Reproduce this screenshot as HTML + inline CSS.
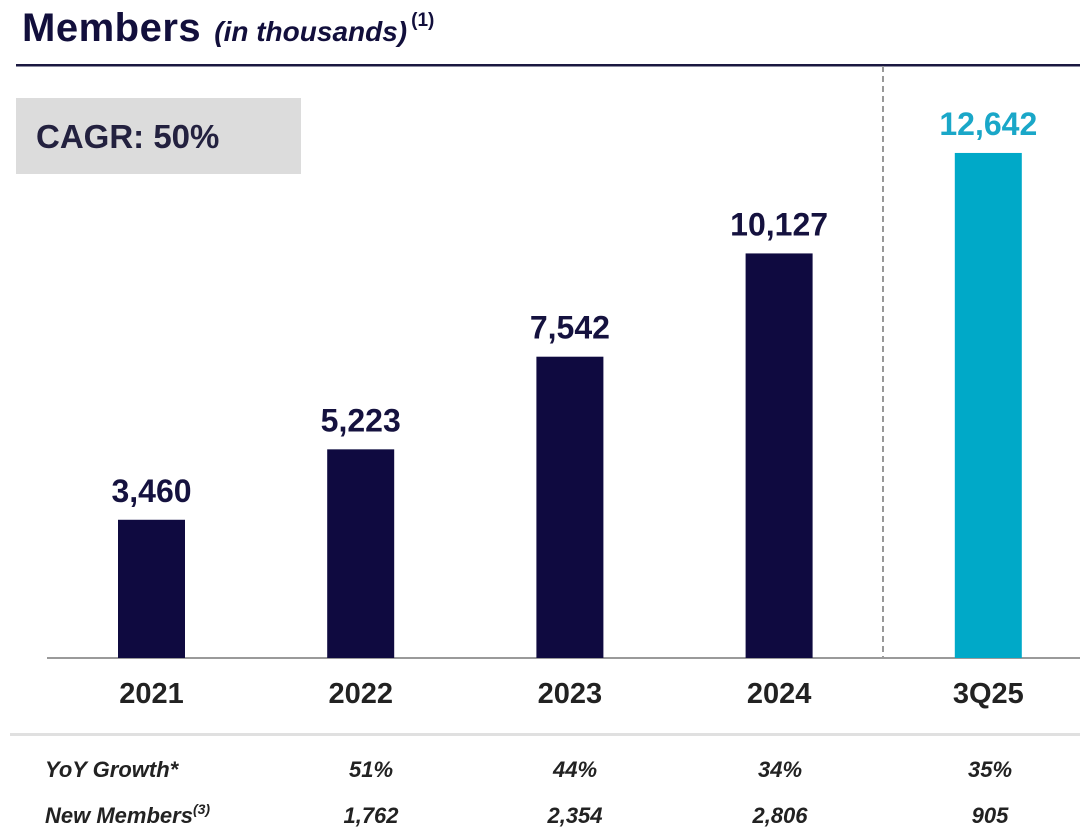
<!DOCTYPE html>
<html><head><meta charset="utf-8">
<style>
body{margin:0;width:1080px;height:827px;background:#fff;overflow:hidden;font-family:"Liberation Sans",sans-serif;}
svg text{font-family:"Liberation Sans",sans-serif;}
</style></head>
<body>
<svg width="1080" height="827" id="chart">
<text x="22" y="41" font-size="40" font-weight="bold" fill="#120f3c"><tspan letter-spacing="0.5">Members</tspan> <tspan font-size="28" font-style="italic" dx="2">(in thousands)</tspan><tspan font-size="19" dy="-15" dx="4">(1)</tspan></text>
<rect x="16" y="64" width="1064" height="2.5" fill="#1a1840"/>
<rect x="16" y="98" width="285" height="76" fill="#dcdcdc"/>
<text x="36" y="148" font-size="33" font-weight="bold" fill="#23213f">CAGR: 50%</text>
<line x1="883" y1="66" x2="883" y2="658" stroke="#999" stroke-width="2" stroke-dasharray="6,4"/>
<line x1="47" y1="658" x2="1080" y2="658" stroke="#9a9a9a" stroke-width="2"/>
<rect x="10" y="733" width="1070" height="3" fill="#e0e0e0"/>
<g id="bars"></g>
<g id="table"></g>
</svg>
<script>
const categories=["2021","2022","2023","2024","3Q25"];
const members=[3460,5223,7542,10127,12642];
const valueLabels=["3,460","5,223","7,542","10,127","12,642"];
const yoyGrowth=["51%","44%","34%","35%"];
const newMembers=["1,762","2,354","2,806","905"];
const NS="http://www.w3.org/2000/svg";
const base=658, scale=0.03995;
const xC=i=>151.5+i*209.2;
const yS=v=>base-v*scale;
const bars=document.getElementById('bars');
function mk(tag,attrs,parent){const e=document.createElementNS(NS,tag);for(const k in attrs)e.setAttribute(k,attrs[k]);parent.appendChild(e);return e;}
categories.forEach((c,i)=>{
  const last=i===categories.length-1;
  const r=mk('rect',{x:xC(i)-33.5,y:yS(members[i]),width:67,height:base-yS(members[i]),fill:last?'#00a9c8':'#0f0a40'},bars);
  
  
  const t=mk('text',{x:xC(i),y:yS(members[i])-18,'text-anchor':'middle','font-size':32,'font-weight':'bold',fill:last?'#1aa7c8':'#15123f'},bars);
  t.textContent=valueLabels[i];
  
  
  const x=mk('text',{x:xC(i),y:703,'text-anchor':'middle','font-size':29,'font-weight':'bold',fill:'#222'},bars);
  x.textContent=c;
  
  
});
const tb=document.getElementById('table');
const cols=[371,575,780,990];
const rowY=[777,823];
const h1=mk('text',{x:45,y:rowY[0],'font-size':22,'font-weight':'bold','font-style':'italic',fill:'#222'},tb);
h1.textContent='YoY Growth*';


const h2=mk('text',{x:45,y:rowY[1],'font-size':22,'font-weight':'bold','font-style':'italic',fill:'#222'},tb);
h2.innerHTML='New Members<tspan font-size="14" dy="-9">(3)</tspan>';


yoyGrowth.forEach((v,i)=>{
  const t=mk('text',{x:cols[i],y:rowY[0],'text-anchor':'middle','font-size':22,'font-weight':'bold','font-style':'italic',fill:'#222'},tb);
  t.textContent=v;
  
  
});
newMembers.forEach((v,i)=>{
  const t=mk('text',{x:cols[i],y:rowY[1],'text-anchor':'middle','font-size':22,'font-weight':'bold','font-style':'italic',fill:'#222'},tb);
  t.textContent=v;
  
  
});
</script>
</body></html>
